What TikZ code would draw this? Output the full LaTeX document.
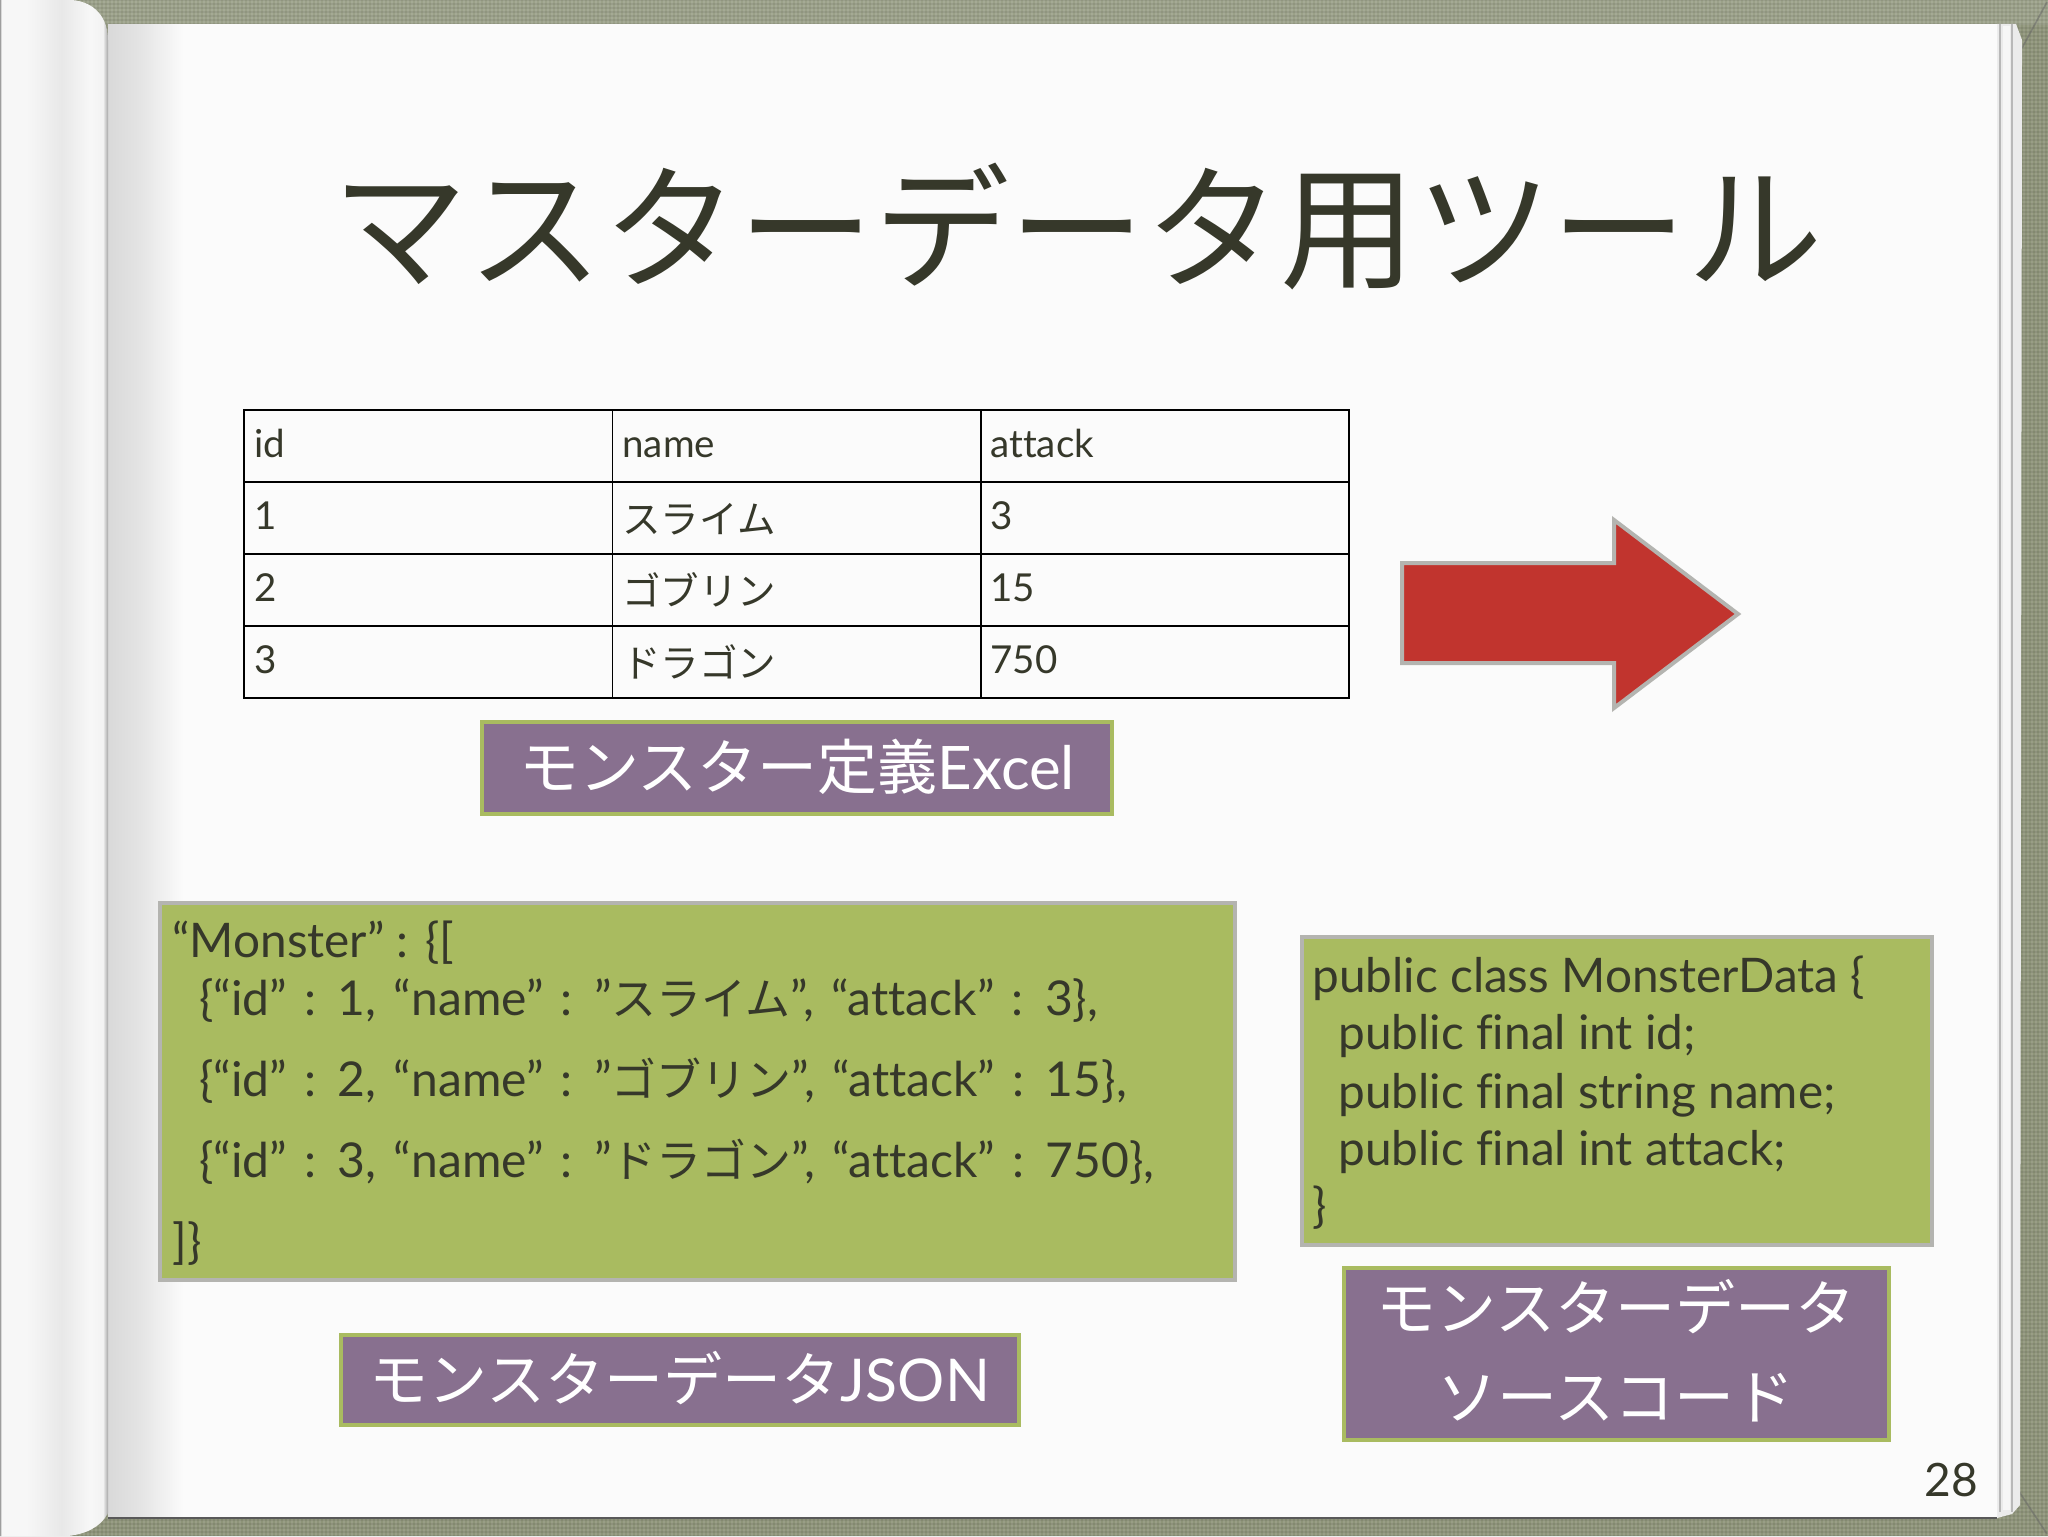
\documentclass[tikz,border=0pt]{standalone}
\usepackage{fontspec}
\setmainfont[Ligatures=NoCommon]{Lato}
\newfontfamily\cjk{Noto Sans CJK JP}
\newfontfamily\jsonlatin[Ligatures=NoCommon,WordSpace=1.4]{Lato}
\definecolor{cloth}{HTML}{8E9479}
\definecolor{ink}{HTML}{36382A}
\definecolor{leaf}{HTML}{A9BB60}
\definecolor{plum}{HTML}{88708F}
\definecolor{rim}{HTML}{B4B4B0}
\definecolor{arrowred}{HTML}{C1342E}
\definecolor{pagewhite}{HTML}{FBFBFB}
\definecolor{gutter}{HTML}{D9D9D9}
\newcommand{\fpx}[1]{\fontsize{\fpeval{#1/2}pt}{\fpeval{#1/2}pt}\selectfont}
\newcommand{\jp}[1]{{\cjk #1}}
\newcommand{\jq}[1]{{\fpx{45}\cjk #1}}
\pgfdeclarehorizontalshading{curl}{100bp}{color(0bp)=(white!62!black); color(25bp)=(white!62!black); color(25.7bp)=(white!97!black); color(36.6bp)=(white!97!black); color(53.7bp)=(white!91!black); color(66.7bp)=(white!97!black); color(72.7bp)=(white!95!black); color(75bp)=(white!65!black); color(100bp)=(white!65!black)}
\pgfdeclarehorizontalshading{gutterfade}{100bp}{color(0bp)=(gutter); color(25bp)=(gutter); color(25.8bp)=(gutter!70!pagewhite); color(27bp)=(pagewhite); color(100bp)=(pagewhite)}
\tikzset{
  greenbox/.style={draw=rim,line width=2pt,fill=leaf},
  plumbox/.style={draw=leaf,line width=1.6pt,fill=plum},
  cellline/.style={draw=black,line width=0.9pt},
  celltext/.style={anchor=base west,inner sep=0pt,text=ink,font=\fpx{38.5}},
  jsoncode/.style={anchor=base west,inner sep=0pt,text=ink,font=\fpx{48}\jsonlatin},
  srccode/.style={anchor=base west,inner sep=0pt,text=ink,font=\fpx{47.7}},
  label/.style={anchor=base,inner sep=0pt,text=white,font=\fpx{60}},
}
\begin{document}
\begin{tikzpicture}[x=0.5pt,y=-0.5pt]
\useasboundingbox (0,0) rectangle (2048,1536);
% cover with a woven texture
\fill[cloth] (0,0) rectangle (2048,1536);
\fill[white,opacity=.12] (0,0) rectangle (2048,25);
\foreach \xx in {0,4,...,2048}{\draw[white,opacity=.10,line width=0.6pt] (\xx,0) -- (\xx,1536);}
\foreach \yy in {0,4,...,1536}{\draw[black,opacity=.07,line width=0.6pt] (0,\yy) -- (2048,\yy);}
\draw[black!60,opacity=.5,line width=0.8pt] (2022,48) -- (2047,2);
\draw[black!60,opacity=.5,line width=0.8pt] (2018,1490) -- (2047,1534);
% page stack on the right
\fill[white!92!black] (1997,24) -- (2016,24) -- (2022,40) -- (2020,1505) -- (2012,1514) -- (1997,1518) -- cycle;
\foreach \xx in {2000,2012}{\draw[white!72!black,line width=0.8pt] (\xx,24) -- (\xx,1512);}
\fill[white!97!black] (2003,26) rectangle (2010,1510);
% page
\shade[shading=gutterfade] (108,25) rectangle (1997,1518);
\draw[black!65,line width=1pt] (108,1518) -- (1997,1518);
% curled leaf
\shade[shading=curl] (0,0) -- (72,0) .. controls (95,2) and (108,18) .. (108,40) -- (108,1513) .. controls (100,1528) and (85,1534) .. (68,1536) -- (0,1536) -- cycle;
% title
\node[anchor=base west,inner sep=0pt,text=ink,font=\fpx{135.5}\cjk] (title) at (332,278) {マスターデータ用ツール};
% table
\coordinate (tl) at (244,410);
\coordinate (br) at (1349,698);
\draw[cellline] (tl) rectangle (br);
\foreach \yy in {482,554,626}{\draw[cellline] (244,\yy) -- (1349,\yy);}
\foreach \xx in {612.5,981}{\draw[cellline] (\xx,410) -- (\xx,698);}
\node[celltext] (c11) at (254,457) {id};
\node[celltext] (c12) at (622,457) {name};
\node[celltext] (c13) at (990,457) {attack};
\node[celltext] (c21) at (254,529) {1};
\node[celltext] (c22) at (622,533) {\jp{スライム}};
\node[celltext] (c23) at (990,529) {3};
\node[celltext] (c31) at (254,601) {2};
\node[celltext] (c32) at (622,605) {\jp{ゴブリン}};
\node[celltext] (c33) at (990,601) {15};
\node[celltext] (c41) at (254,673) {3};
\node[celltext] (c42) at (622,677) {\jp{ドラゴン}};
\node[celltext] (c43) at (990,673) {750};
% arrow
\draw[draw=rim,line width=2pt,fill=arrowred,line join=miter] (1402,563) -- (1614,563) -- (1614,520) -- (1738,614) -- (1614,708) -- (1614,663) -- (1402,663) -- cycle;
% purple labels
\draw[plumbox] (482,722) rectangle (1112,814);
\node[label] (excel) at (797,789) {\jp{モンスター定義}Excel};
\draw[plumbox] (341,1335) rectangle (1019,1425);
\node[label,font=\fpx{59}] (json) at (680,1401) {\jp{モンスターデータ}JSON};
\draw[plumbox] (1344,1268) rectangle (1889,1440);
\node[label] (src1) at (1616,1330) {\jp{モンスターデータ}};
\node[label] (src2) at (1616,1419) {\jp{ソースコード}};
% JSON box
\draw[greenbox] (160,903) rectangle (1235,1280);
\node[srccode] (j1) at (172,957) {“Monster” : \{[};
\node[jsoncode] (j2) at (199,1015) {\{“id” : 1, “name” : ”\jq{スライム}”, “attack” : 3\},};
\node[jsoncode] (j3) at (199,1096) {\{“id” : 2, “name” : ”\jq{ゴブリン}”, “attack” : 15\},};
\node[jsoncode] (j4) at (199,1177) {\{“id” : 3, “name” : ”\jq{ドラゴン}”, “attack” : 750\},};
\node[jsoncode] (j5) at (172,1258) {]\}};
% source box
\draw[greenbox] (1302,937) rectangle (1932,1245);
\node[srccode] (s1) at (1312,992) {public class MonsterData \{};
\node[srccode] (s2) at (1338,1049) {public final int id;};
\node[srccode] (s3) at (1338,1108) {public final string name;};
\node[srccode] (s4) at (1338,1165) {public final int attack;};
\node[srccode] (s5) at (1312,1222) {\}};
% page number
\node[anchor=base west,inner sep=0pt,text=ink,font=\fpx{46}] (pg) at (1924,1496) {28};
\end{tikzpicture}
\end{document}
